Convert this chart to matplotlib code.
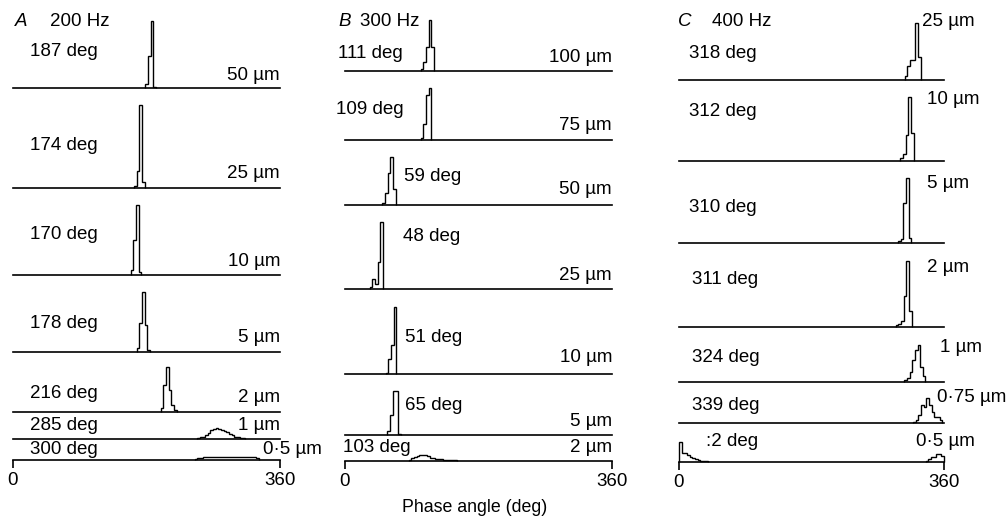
import numpy as np
import matplotlib
matplotlib.use('Agg')
import matplotlib.pyplot as plt

plt.rcParams['font.family'] = ['Liberation Sans', 'DejaVu Sans']

W, H = 1008, 516
BIN = 3.6  # phase bin width (deg)

# ---- data: phase histograms (relative bin heights, first bin start in deg) ----
# Column A, 200 Hz
a_amp = ['50', '25', '10', '5', '2', '1', '0·5']
a_phase = [187, 174, 170, 178, 216, 285, 300]
a_start = [178.2, 163.0, 158.6, 166.7, 199.0, 248.0, 245.0]
a_hist = [
    [0.06, 0.48, 1.0, 0.02],
    [0.02, 0.2, 1.0, 0.07],
    [0.07, 0.5, 1.0, 0.05],
    [0.06, 0.48, 1.0, 0.45, 0.03],
    [0.08, 0.6, 1.0, 0.49, 0.15, 0.04],
    [0.1, 0.15, 0.2, 0.3, 0.5, 0.8, 0.95, 1.0, 0.95, 0.85, 0.75, 0.6, 0.45,
     0.3, 0.2, 0.12, 0.06, 0.03],
    [0.2, 0.4, 0.6, 0.75, 0.85, 0.9, 0.95, 1.0, 1.0, 1.0, 1.0, 1.0, 1.0, 1.0,
     1.0, 1.0, 1.0, 1.0, 1.0, 1.0, 1.0, 0.9, 0.9, 0.5],
]

# Column B, 300 Hz
b_amp = ['100', '75', '50', '25', '10', '5', '2']
b_phase = [111, 109, 59, 48, 51, 65, 103]
b_start = [102.0, 102.0, 50.4, 33.4, 54.8, 57.2, 86.0]
b_hist = [
    [0.03, 0.18, 0.47, 1.0, 0.47],
    [0.03, 0.3, 0.87, 1.0],
    [0.04, 0.24, 0.66, 1.0, 0.34],
    [0.02, 0.14, 0.06, 0.39, 1.0],
    [0.02, 0.22, 0.43, 1.0],
    [0.08, 0.45, 1.0, 1.0, 0.03],
    [0.1, 0.35, 0.6, 0.7, 0.85, 1.0, 0.95, 0.7, 0.5, 0.4, 0.3, 0.25, 0.18,
     0.12, 0.08, 0.05, 0.03, 0.02],
]

# Column C, 400 Hz
c_amp = ['25', '10', '5', '2', '1', '0·75', '0·5']
c_phase = ['318', '312', '310', '311', '324', '339', ':2']
c_start = [306.8, 300.8, 297.6, 294.4, 306.0, 318.0, 0.0]
c_hist = [
    [0.06, 0.24, 0.34, 0.34, 1.0, 0.39],
    [0.04, 0.11, 0.4, 1.0, 0.44],
    [0.03, 0.06, 0.62, 1.0, 0.08],
    [0.02, 0.04, 0.08, 0.46, 1.0, 0.24],
    [0.04, 0.09, 0.27, 0.58, 0.85, 1.0, 0.4, 0.15],
    [0.05, 0.15, 0.35, 0.73, 0.65, 1.0, 0.73, 0.47, 0.27, 0.27, 0.13],
    [1.0, 0.42, 0.42, 0.33, 0.25, 0.17, 0.12, 0.08, 0.05, 0.03, 0.02],
]
# second lobe of the last C trace (wraps around 360)
c_tail_start = 335.0
c_tail = [0.05, 0.12, 0.25, 0.25, 0.38, 0.38, 0.3]

# ---- layout (pixels) ----
col_x = [(13, 280), (345, 612), (679, 944)]
a_base = [88, 188, 275, 352, 412, 438.7, 459.5]
a_peak = [67, 83, 70, 60, 45, 10.7, 3]
b_base = [71, 140, 205, 288.5, 374, 435, 460.5]
b_peak = [51, 52, 48, 67, 67, 44, 6]
c_base = [79.5, 160.7, 243.3, 326.7, 381.7, 423.3, 461.7]
c_peak = [57, 64, 65, 66, 37, 25, 20]

fig = plt.figure(figsize=(W / 100, H / 100), dpi=100)


def px(x, y):
    return x / W, 1 - y / H


def trace(col, base, peak, start, hist, last, extra=None):
    x0, x1 = col_x[col]
    ax = fig.add_axes([x0 / W, 1 - base / H, (x1 - x0) / W, peak / H])
    ax.patch.set_visible(False)
    ax.set_xlim(0, 360)
    ax.set_ylim(0, 1)
    edges = np.clip(start + BIN * np.arange(len(hist) + 1), 0, 360)
    ax.stairs(hist, edges, baseline=0, color='black', lw=1.0, clip_on=False)
    if extra is not None:
        s, h = extra
        e2 = np.clip(s + BIN * np.arange(len(h) + 1), 0, 360)
        ax.stairs(h, e2, baseline=0, color='black', lw=1.0, clip_on=False)
    for s in ['top', 'left', 'right']:
        ax.spines[s].set_visible(False)
    ax.spines['bottom'].set_linewidth(1.2)
    ax.set_yticks([])
    if last:
        ax.set_xticks([0, 360])
        ax.set_xticklabels(['0', '360'], fontsize=13.5)
        ax.tick_params(axis='x', direction='out', length=6, width=1.2, pad=3)
    else:
        ax.set_xticks([])
    return ax


for i in range(7):
    trace(0, a_base[i], a_peak[i], a_start[i], a_hist[i], i == 6)
    trace(1, b_base[i], b_peak[i], b_start[i], b_hist[i], i == 6)
    trace(2, c_base[i], c_peak[i], c_start[i], c_hist[i], i == 6,
          extra=(c_tail_start, c_tail) if i == 6 else None)

fs = 13.5
# panel headings
for letter, hz, xl, xh in [('A', '200 Hz', 15, 50), ('B', '300 Hz', 338, 360),
                           ('C', '400 Hz', 678, 712)]:
    fig.text(*px(xl, 22), letter, fontsize=fs, style='italic', va='center')
    fig.text(*px(xh, 22), hz, fontsize=fs, va='center')

# column A labels
a_deg_y = [52, 145, 235, 323, 393, 425, 449]
a_amp_y = [76, 174, 261, 338, 397, 425, 449]
for i in range(7):
    fig.text(*px(30, a_deg_y[i]), f'{a_phase[i]} deg', fontsize=fs, va='center')
    xr = 322 if i == 6 else 280
    fig.text(*px(xr, a_amp_y[i]), f'{a_amp[i]} µm', fontsize=fs,
             va='center', ha='right')

# column B labels
b_deg_x = [338, 336, 404, 403, 405, 405, 343]
b_deg_y = [53, 110, 177, 237, 337, 406, 448]
b_amp_y = [57, 125, 190, 275, 358, 421, 448]
for i in range(7):
    fig.text(*px(b_deg_x[i], b_deg_y[i]), f'{b_phase[i]} deg', fontsize=fs,
             va='center')
    fig.text(*px(612, b_amp_y[i]), f'{b_amp[i]} µm', fontsize=fs,
             va='center', ha='right')

# column C labels
c_deg_x = [689, 689, 689, 692, 692, 692, 706]
c_deg_y = [53, 112, 207, 279, 358, 406, 442]
c_amp_x = [922, 927, 927, 927, 940, 937, 916]
c_amp_y = [22, 100, 183, 267, 347, 397, 442]
for i in range(7):
    fig.text(*px(c_deg_x[i], c_deg_y[i]), f'{c_phase[i]} deg', fontsize=fs,
             va='center')
    fig.text(*px(c_amp_x[i], c_amp_y[i]), f'{c_amp[i]} µm', fontsize=fs,
             va='center')

fig.text(*px(475, 507), 'Phase angle (deg)', fontsize=12.8, ha='center',
         va='center')

fig.savefig('out.png', dpi=100)
